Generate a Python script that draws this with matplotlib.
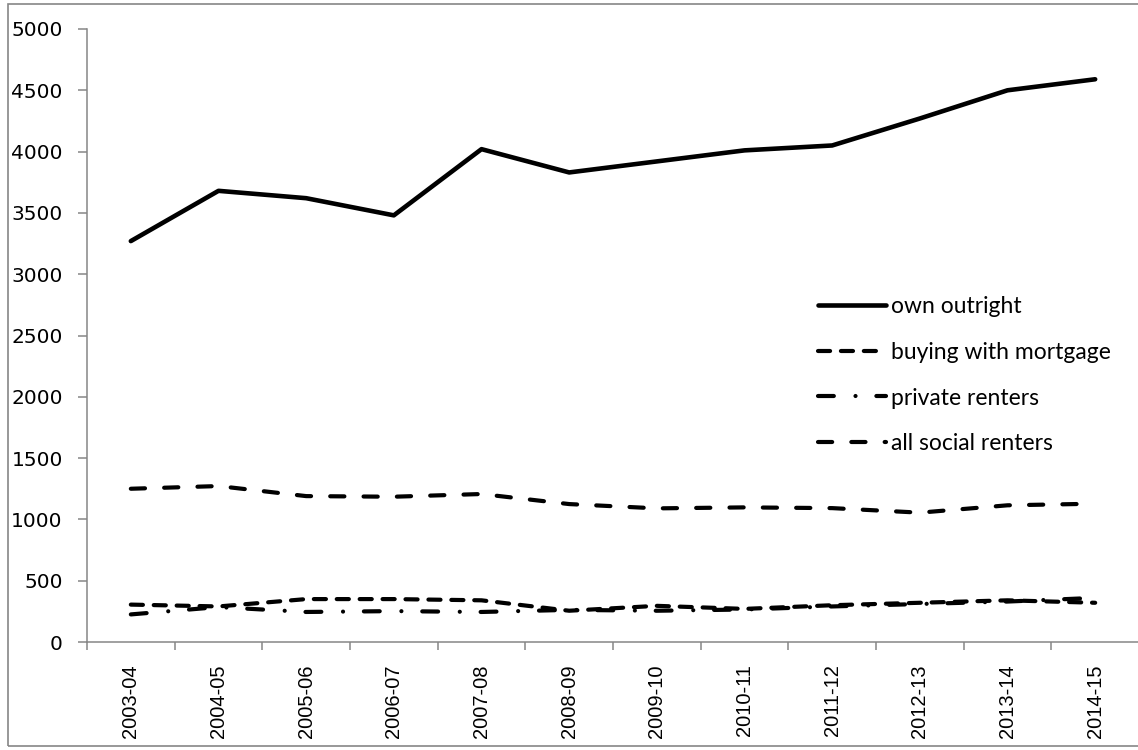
import numpy as np
import matplotlib
matplotlib.use("Agg")
import matplotlib.pyplot as plt
from matplotlib.patches import Rectangle

# Data
years = ["2003-04", "2004-05", "2005-06", "2006-07", "2007-08", "2008-09",
         "2009-10", "2010-11", "2011-12", "2012-13", "2013-14", "2014-15"]
own_outright = [3270, 3680, 3620, 3480, 4020, 3830, 3920, 4010, 4050, 4270, 4500, 4590]
mortgage = [305, 290, 350, 350, 340, 255, 295, 270, 300, 320, 340, 320]
private_renters = [225, 285, 245, 252, 245, 262, 255, 265, 290, 310, 330, 360]
social_renters = [1250, 1272, 1190, 1185, 1207, 1125, 1090, 1098, 1092, 1055, 1115, 1128]
yticks = np.arange(0, 5001, 500)

W, H = 1138, 750
fig = plt.figure(figsize=(W / 100, H / 100), dpi=100)

# outer chart border (Excel-style), right edge falls outside the image
fig.patches.append(Rectangle((8 / W, 4 / H), 1.2, 742 / H, transform=fig.transFigure,
                             fill=False, edgecolor="#868686", linewidth=1.2))

ax = fig.add_axes([87 / W, (H - 642) / H, 1052 / W, 613 / H])
x = np.arange(len(years))

lw = 3.0
ax.plot(x, own_outright, color="black", lw=3.3, solid_capstyle="round",
        label="own outright")
ax.plot(x, mortgage, color="black", lw=lw, dashes=(2.9, 2.6),
        dash_capstyle="round", label="buying with mortgage")
ax.plot(x, private_renters, color="black", lw=lw, dashes=(3.8, 5.2, 0.01, 5.0),
        dash_capstyle="round", label="private renters")
ax.plot(x, social_renters, color="black", lw=lw, dashes=(3.4, 4.6),
        dash_capstyle="round", label="all social renters")

ax.set_xlim(-0.5, len(years) - 0.5)
ax.set_ylim(0, 5000)
ax.set_yticks(yticks)
ax.set_yticklabels([str(v) for v in yticks], fontsize=14.5, family="DejaVu Sans")

# category boundaries get the tick marks, labels sit at the centres
ax.set_xticks(np.arange(-0.5, len(years), 1))
ax.set_xticklabels([])
ax.set_xticks(x, minor=True)
ax.set_xticklabels(years, minor=True, rotation=90, fontsize=14.5,
                   family="Liberation Sans", va="top")
ax.tick_params(axis="x", which="major", length=6, width=1.1, color="#868686")
ax.tick_params(axis="x", which="minor", length=0, pad=16)
ax.tick_params(axis="y", length=6.5, width=1.1, color="#868686", pad=11)

for s in ["top", "right"]:
    ax.spines[s].set_visible(False)
for s in ["left", "bottom"]:
    ax.spines[s].set_color("#868686")
    ax.spines[s].set_linewidth(1.1)

leg = fig.legend(loc="upper left", bbox_to_anchor=(818 / W, 1 - 296 / H),
                 frameon=False, prop={"family": "Lato", "size": 16.5},
                 handlelength=2.95, handletextpad=0.25, labelspacing=1.08,
                 borderpad=0, borderaxespad=0)

fig.savefig("out.png", dpi=100)
